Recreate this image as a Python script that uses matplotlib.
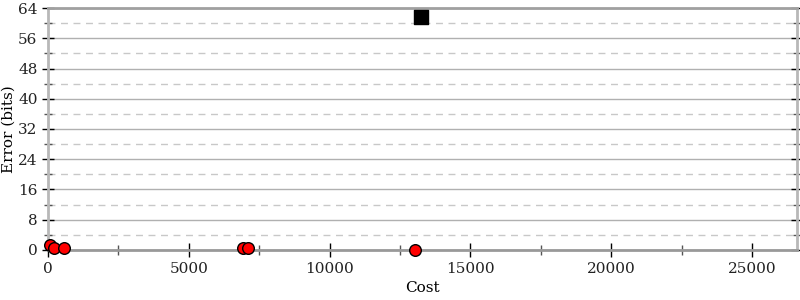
import matplotlib
matplotlib.use("Agg")
import matplotlib.pyplot as plt
from matplotlib.ticker import MultipleLocator

plt.rcParams['font.family'] = ['DejaVu Serif']

circle_cost = [70, 220, 570, 6920, 7120, 13030]
circle_err = [1.2, 0.5, 0.4, 0.4, 0.4, 0.0]
square_cost = [13250]
square_err = [61.5]

fig = plt.figure(figsize=(8, 3), dpi=100)
ax = fig.add_axes([0.06, 0.1667, 0.93625, 0.8066])

ax.set_xlim(0, 26600)
ax.set_ylim(0, 64)
ax.xaxis.set_major_locator(MultipleLocator(5000))
ax.xaxis.set_minor_locator(MultipleLocator(2500))
ax.yaxis.set_major_locator(MultipleLocator(8))
ax.yaxis.set_minor_locator(MultipleLocator(4))

ax.grid(True, which='major', axis='y', color='#b0b0b0', linestyle='-', linewidth=1)
ax.grid(True, which='minor', axis='y', color='#c8c8c8', linestyle=(0, (5, 4)), linewidth=1)
ax.set_axisbelow(True)

for s in ['left', 'right', 'bottom', 'top']:
    ax.spines[s].set_linewidth(2)
ax.spines['left'].set_color('#b8b8b8')
ax.spines['right'].set_color('#b8b8b8')
ax.spines['top'].set_color('#a0a0a0')
ax.spines['bottom'].set_color('#999999')

ax.tick_params(axis='y', which='both', left=True, right=True, direction='inout', colors='#000000', labelsize=11, labelcolor='#222222')
ax.tick_params(axis='y', which='major', length=8, width=1)
ax.tick_params(axis='y', which='minor', length=6, width=1, color='#555555')
ax.tick_params(axis='x', which='both', bottom=True, top=False, direction='inout', labelsize=11, labelcolor='#222222')
ax.tick_params(axis='x', which='major', length=10, width=1)
ax.tick_params(axis='x', which='minor', length=7, width=1, color='#555555')

ax.scatter(circle_cost, circle_err, s=70, marker='o', facecolor='#ff0000', edgecolor='#000000', linewidth=1, zorder=5, clip_on=False)
ax.scatter(square_cost, square_err, s=110, marker='s', facecolor='#000000', edgecolor='#000000', linewidth=1, zorder=5, clip_on=False)

ax.set_xlabel('Cost', fontsize=11, labelpad=4)
ax.set_ylabel('Error (bits)', fontsize=11)
ax.yaxis.set_label_coords(-0.0427, 0.5)

fig.savefig('out.png', dpi=100)
